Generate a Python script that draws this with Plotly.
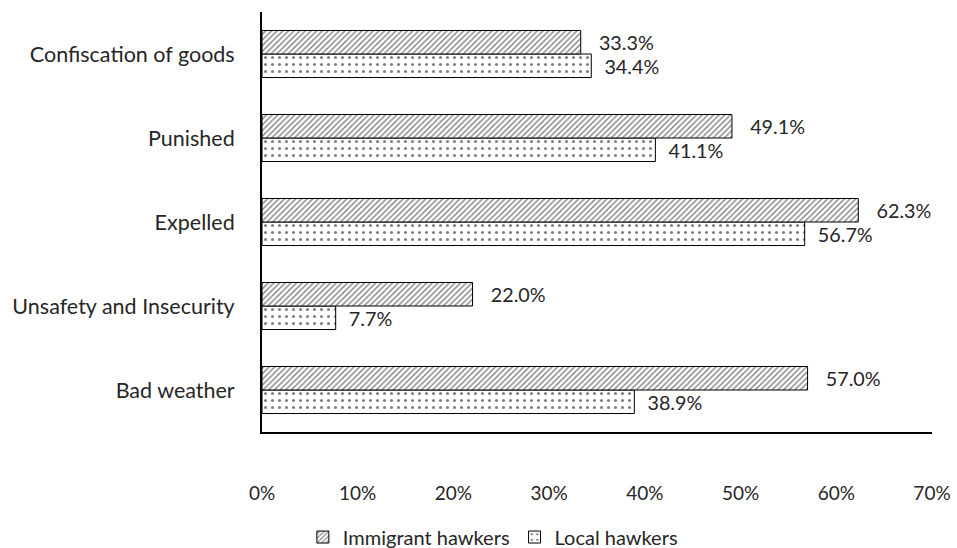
import plotly.graph_objects as go

categories = ["Bad weather", "Unsafety and Insecurity", "Expelled", "Punished", "Confiscation of goods"]
immigrant = [57.0, 22.0, 62.3, 49.1, 33.3]
local = [38.9, 7.7, 56.7, 41.1, 34.4]
tick_vals = [0, 10, 20, 30, 40, 50, 60, 70]
tick_text = ["0%", "10%", "20%", "30%", "40%", "50%", "60%", "70%"]

FONT = "Lato"
TXT = "#262626"
FS = 19
FS_LBL = 21

fig = go.Figure()
fig.add_trace(go.Bar(
    name="Local hawkers", y=categories, x=local, orientation="h",
    text=[f"  {v:.1f}%" for v in local], textposition="outside",
    textfont=dict(family=FONT, size=FS_LBL, color=TXT),
    marker=dict(color="white", line=dict(color="black", width=1),
                pattern=dict(shape=".", fgcolor="black", bgcolor="white", size=7, solidity=0.15, fillmode="overlay")),
    cliponaxis=False,
))
fig.add_trace(go.Bar(
    name="Immigrant hawkers", y=categories, x=immigrant, orientation="h",
    text=[f"   {v:.1f}%" for v in immigrant], textposition="outside",
    textfont=dict(family=FONT, size=FS_LBL, color=TXT),
    marker=dict(color="white", line=dict(color="black", width=1),
                pattern=dict(shape="/", fgcolor="black", bgcolor="white", size=4, solidity=0.35, fillmode="overlay")),
    cliponaxis=False,
))

fig.update_layout(
    width=957, height=548,
    margin=dict(l=262, r=25, t=12, b=116),
    plot_bgcolor="white", paper_bgcolor="white",
    barmode="group", bargap=0.44, bargroupgap=0,
    font=dict(family=FONT, size=FS, color=TXT),
    showlegend=True,
    legend=dict(orientation="h", x=0.515, xref="container", xanchor="center",
                y=0.02, yref="container", yanchor="middle",
                traceorder="reversed", font=dict(family=FONT, size=FS_LBL - 1, color=TXT),
                itemwidth=30),
)
fig.update_xaxes(range=[0, 70], tickvals=tick_vals, ticktext=tick_text, automargin=False,
                 showgrid=False, zeroline=False, showline=True, linecolor="black", linewidth=2,
                 ticks="", ticklabelstandoff=43, tickfont=dict(family=FONT, size=FS, color=TXT))
fig.update_yaxes(showgrid=False, showline=True, linecolor="black", linewidth=2, automargin=False,
                 ticks="", ticklabelstandoff=21, tickfont=dict(family=FONT, size=21.5, color=TXT))

fig.write_html("out.html")
